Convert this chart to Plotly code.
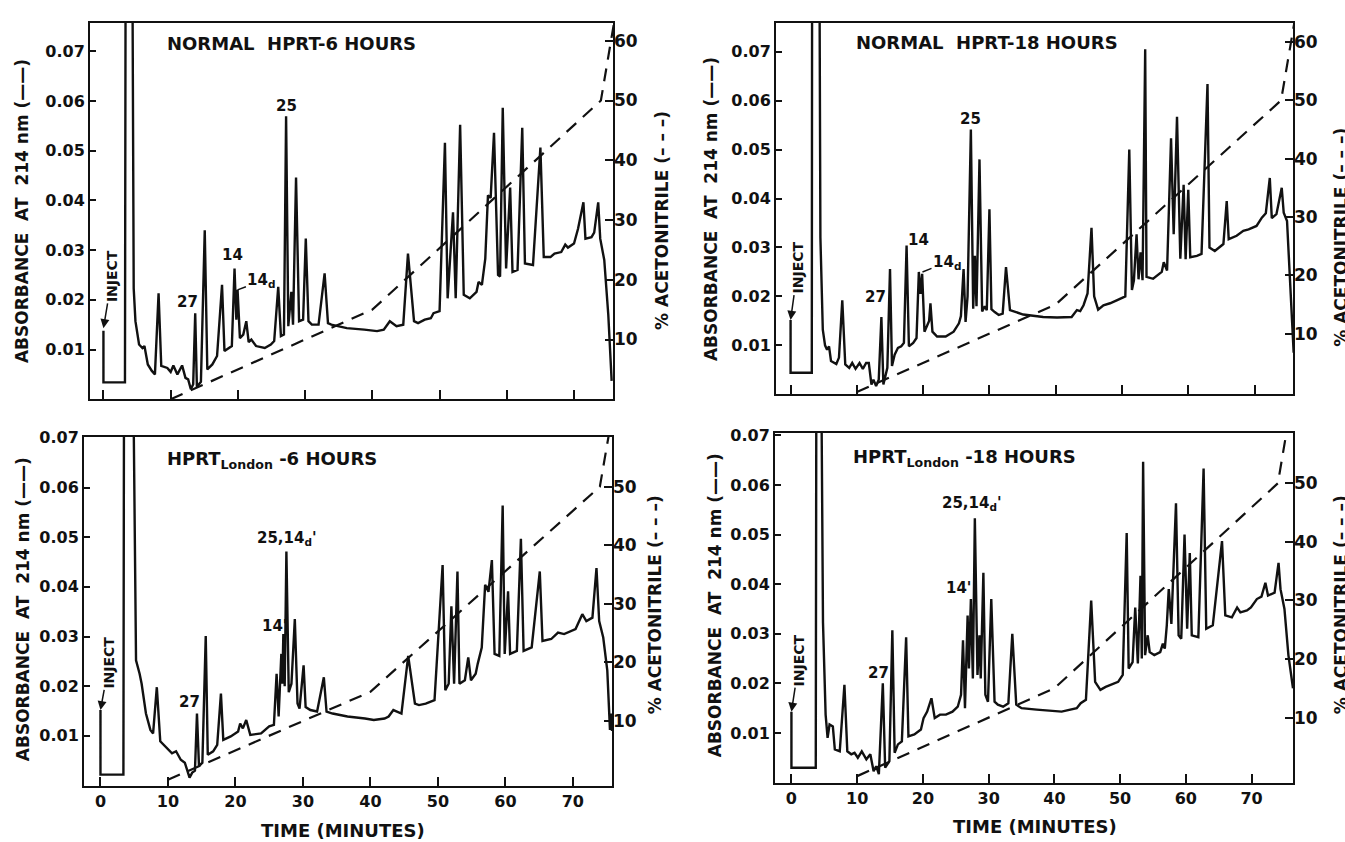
import plotly.graph_objects as go

W, H = 1345, 842

# ---------------- data ----------------
# acetonitrile gradient (% vs minutes)
grad_time = [10, 40, 74, 80]
grad_pct = [0, 15, 50, 90]

abs_ticks = [0.01, 0.02, 0.03, 0.04, 0.05, 0.06, 0.07]
abs_ticktext = ["0.01", "0.02", "0.03", "0.04", "0.05", "0.06", "0.07"]
time_ticks = [0, 10, 20, 30, 40, 50, 60, 70]
pct_ticks_top = [10, 20, 30, 40, 50, 60]
pct_ticks_bottom = [10, 20, 30, 40, 50]

# Normal HPRT - 6 hours
t_n6 = [0, 0, 3.2, 3.3, 4.3, 4.5, 4.76, 5.3, 5.8, 6.1, 6.6, 7.2, 7.66, 8.2, 8.6, 9.5, 10.0, 10.4, 11.0, 11.7,
        12.2, 12.6, 13.0, 13.35, 13.65, 13.9, 14.5, 15.07, 15.45, 16.2, 16.9, 17.64, 18.0, 19.1, 19.5, 19.77,
        19.95, 20.3, 20.8, 21.25, 21.6, 22.0, 22.7, 24.0, 24.9, 25.4, 26.0, 26.4, 26.85, 27.17, 27.5, 27.95,
        28.2, 28.65, 29.1, 29.7, 30.1, 30.5, 31.0, 32.0, 32.9, 33.4, 33.9, 36.2, 38.8, 40.7, 41.7, 42.6, 43.6,
        44.6, 45.3, 46.2, 46.8, 47.8, 48.7, 49.1, 50.0, 50.8, 51.2, 52.0, 52.4, 53.06, 53.6, 54.5, 55.5, 55.8,
        56.3, 56.8, 57.2, 57.6, 58.1, 58.7, 59.0, 59.4, 59.9, 60.5, 60.85, 61.6, 62.3, 62.7, 63.9, 65.0, 65.5,
        66.5, 67.1, 68.1, 68.7, 69.1, 70.0, 70.6, 71.4, 71.7, 72.6, 73.0, 73.6, 73.9, 74.5, 75.1, 75.6]
a_n6 = [0.0138, 0.0034, 0.0034, 0.09, 0.09, 0.0223, 0.0157, 0.0110, 0.0103, 0.0107, 0.0070, 0.0057, 0.0050,
        0.0213, 0.0067, 0.0063, 0.0055, 0.0068, 0.0050, 0.0068, 0.0043, 0.0040, 0.0020, 0.0030, 0.0173, 0.0025,
        0.0035, 0.0340, 0.0060, 0.0070, 0.0087, 0.0230, 0.0097, 0.0107, 0.0263, 0.0160, 0.0220, 0.0123, 0.0130,
        0.0157, 0.0115, 0.0120, 0.0107, 0.0103, 0.0110, 0.0117, 0.0226, 0.0127, 0.0130, 0.0569, 0.0147, 0.0216,
        0.0150, 0.0446, 0.0157, 0.0160, 0.0323, 0.0157, 0.0150, 0.0150, 0.0253, 0.0153, 0.0150, 0.0143, 0.0140,
        0.0137, 0.0140, 0.0157, 0.0147, 0.0150, 0.0293, 0.0157, 0.0153, 0.0160, 0.0163, 0.0173, 0.0177, 0.0516,
        0.0203, 0.0376, 0.0203, 0.0552, 0.0210, 0.0203, 0.0216, 0.0236, 0.0230, 0.0283, 0.0410, 0.0405, 0.0536,
        0.0250, 0.0247, 0.0586, 0.0263, 0.0426, 0.0256, 0.0260, 0.0546, 0.0273, 0.0270, 0.0506, 0.0286, 0.0286,
        0.0293, 0.0296, 0.0311, 0.0305, 0.0313, 0.0343, 0.0396, 0.0323, 0.0326, 0.0335, 0.0396, 0.0323, 0.0280,
        0.0170, 0.0037]

# Normal HPRT - 18 hours
t_n18 = [0, 0, 3.2, 3.25, 4.35, 4.5, 4.86, 5.2, 5.5, 5.8, 6.1, 6.9, 7.3, 7.8, 8.25, 8.85, 9.3, 9.8, 10.4, 10.9,
         11.4, 11.8, 12.2, 12.5, 12.9, 13.3, 13.7, 14.0, 14.6, 15.0, 15.3, 15.7, 16.2, 16.7, 17.1, 17.5, 17.85,
         18.5, 19.0, 19.35, 19.6, 19.85, 20.2, 20.6, 20.9, 21.1, 21.4, 22.1, 23.4, 24.6, 25.4, 25.7, 26.1, 26.4,
         26.7, 27.2, 27.55, 27.8, 28.05, 28.5, 28.9, 29.3, 29.6, 30.0, 30.3, 30.8, 31.4, 32.0, 32.5, 33.1, 34.4,
         35.1, 38.1, 40.2, 42.4, 43.2, 43.7, 44.2, 44.8, 45.4, 45.8, 46.4, 47.2, 48.2, 49.2, 50.5, 51.1, 51.5,
         51.8, 52.2, 52.5, 52.8, 53.1, 53.5, 53.7, 54.7, 56.0, 56.3, 56.8, 57.4, 57.8, 58.3, 58.8, 59.3, 59.6,
         60.0, 60.3, 61.3, 62.0, 62.9, 63.2, 64.0, 65.3, 65.8, 66.1, 67.3, 68.3, 69.1, 70.3, 71.1, 71.7, 72.3,
         72.6, 73.3, 74.1, 74.4, 74.9, 75.4, 75.9]
a_n18 = [0.0152, 0.0044, 0.0044, 0.09, 0.09, 0.0320, 0.0132, 0.0100, 0.0091, 0.0098, 0.0068, 0.0062, 0.0075,
         0.0192, 0.0061, 0.0054, 0.0064, 0.0052, 0.0064, 0.0052, 0.0064, 0.0064, 0.0020, 0.0030, 0.0017, 0.0030,
         0.0158, 0.0020, 0.0054, 0.0256, 0.0058, 0.0081, 0.0095, 0.0098, 0.0105, 0.0304, 0.0098, 0.0105, 0.0115,
         0.0250, 0.0205, 0.0246, 0.0128, 0.0142, 0.0150, 0.0186, 0.0128, 0.0118, 0.0118, 0.0128, 0.0145, 0.0160,
         0.0256, 0.0148, 0.0200, 0.0541, 0.0175, 0.0283, 0.0180, 0.0480, 0.0169, 0.0180, 0.0172, 0.0378, 0.0174,
         0.0168, 0.0162, 0.0165, 0.0260, 0.0172, 0.0166, 0.0163, 0.0158, 0.0157, 0.0158, 0.0172, 0.0170, 0.0182,
         0.0206, 0.0340, 0.0200, 0.0173, 0.0182, 0.0186, 0.0192, 0.0200, 0.0500, 0.0213, 0.0233, 0.0327, 0.0235,
         0.0290, 0.0233, 0.0705, 0.0240, 0.0236, 0.0250, 0.0270, 0.0253, 0.0523, 0.0327, 0.0567, 0.0277, 0.0428,
         0.0276, 0.0418, 0.0280, 0.0283, 0.0287, 0.0634, 0.0300, 0.0293, 0.0307, 0.0395, 0.0317, 0.0324, 0.0334,
         0.0337, 0.0344, 0.0361, 0.0370, 0.0442, 0.0360, 0.0368, 0.0422, 0.0371, 0.0354, 0.0219, 0.0085]

# HPRT London - 6 hours
t_l6 = [0, 0, 3.4, 3.5, 4.8, 5.27, 5.8, 6.1, 6.74, 7.4, 7.8, 8.35, 8.86, 9.6, 10.6, 11.2, 11.9, 12.5, 12.8, 13.2,
        13.6, 14.0, 14.3, 14.6, 15.1, 15.6, 15.9, 16.7, 17.3, 17.85, 18.2, 19.3, 20.4, 20.7, 21.1, 21.6, 22.2,
        23.8, 25.0, 25.7, 26.1, 26.4, 26.8, 26.95, 27.1, 27.3, 27.55, 27.9, 28.3, 28.8, 29.2, 29.5, 30.1, 30.4,
        31.1, 32.1, 33.1, 33.5, 34.4, 36.6, 39.2, 40.5, 42.1, 42.7, 43.4, 44.6, 45.6, 46.6, 47.2, 48.2, 49.5,
        50.7, 51.1, 51.6, 52.0, 52.4, 52.9, 53.2, 54.0, 54.5, 54.9, 55.6, 55.9, 56.5, 57.0, 57.5, 58.0, 58.4,
        59.1, 59.6, 59.9, 60.4, 60.7, 61.7, 62.3, 62.7, 63.9, 65.1, 65.5, 66.8, 67.8, 68.7, 70.4, 71.0, 71.4,
        72.0, 72.9, 73.5, 73.9, 74.5, 75.1, 75.5, 75.65, 75.8]
a_l6 = [0.0152, 0.0022, 0.0022, 0.09, 0.09, 0.0252, 0.0225, 0.0205, 0.0145, 0.0112, 0.0105, 0.0198, 0.0089,
        0.0079, 0.0065, 0.0069, 0.0052, 0.0046, 0.0032, 0.0016, 0.0026, 0.0030, 0.0145, 0.0039, 0.0046, 0.0301,
        0.0062, 0.0069, 0.0082, 0.0185, 0.0092, 0.0099, 0.0109, 0.0125, 0.0115, 0.0132, 0.0102, 0.0105, 0.0119,
        0.0122, 0.0225, 0.0139, 0.0265, 0.0205, 0.0305, 0.0200, 0.0471, 0.0188, 0.0205, 0.0335, 0.0165, 0.0155,
        0.0242, 0.0158, 0.0152, 0.0149, 0.0218, 0.0149, 0.0145, 0.0139, 0.0135, 0.0132, 0.0135, 0.0139, 0.0152,
        0.0145, 0.0261, 0.0165, 0.0162, 0.0165, 0.0172, 0.0444, 0.0192, 0.0205, 0.0361, 0.0205, 0.0431, 0.0205,
        0.0212, 0.0258, 0.0212, 0.0225, 0.0245, 0.0278, 0.0404, 0.0390, 0.0454, 0.0265, 0.0261, 0.0564, 0.0265,
        0.0391, 0.0265, 0.0271, 0.0497, 0.0271, 0.0278, 0.0431, 0.0291, 0.0295, 0.0308, 0.0305, 0.0315, 0.0335,
        0.0345, 0.0331, 0.0338, 0.0438, 0.0331, 0.0298, 0.0232, 0.0112, 0.0145, 0.0110]

# HPRT London - 18 hours
t_l18 = [0, 0, 3.7, 3.8, 4.5, 4.8, 5.2, 5.5, 5.8, 6.3, 6.6, 7.35, 8.06, 8.5, 9.1, 9.6, 10.1, 10.7, 11.4, 12.0,
         12.5, 12.9, 13.3, 13.9, 14.26, 14.9, 15.35, 15.7, 16.2, 16.8, 17.45, 17.8, 18.7, 19.7, 20.1, 20.65,
         21.3, 21.8, 22.6, 23.5, 24.5, 25.3, 25.8, 26.1, 26.4, 26.8, 27.0, 27.3, 27.6, 27.9, 28.3, 28.6, 28.8,
         29.2, 29.5, 29.9, 30.4, 30.9, 31.4, 32.2, 33.0, 33.6, 34.2, 35.0, 37.3, 41.1, 43.4, 44.0, 44.8, 45.6,
         46.2, 47.0, 47.8, 48.5, 49.7, 50.4, 51.0, 51.3, 51.9, 52.3, 52.7, 53.1, 53.3, 53.5, 53.8, 54.2, 54.5,
         55.2, 56.1, 56.5, 56.8, 57.1, 57.4, 57.8, 58.5, 58.9, 59.3, 59.8, 60.2, 60.6, 60.9, 61.9, 62.7, 63.1,
         64.1, 65.5, 66.0, 67.0, 67.8, 68.3, 69.3, 69.9, 70.8, 71.5, 72.1, 72.5, 73.5, 74.1, 74.4, 75.0, 75.6,
         76.3]
a_l18 = [0.0143, 0.0030, 0.0030, 0.09, 0.09, 0.0323, 0.0137, 0.0090, 0.0117, 0.0113, 0.0067, 0.0063, 0.0197,
         0.0063, 0.0057, 0.0060, 0.0050, 0.0063, 0.0047, 0.0057, 0.0023, 0.0033, 0.0017, 0.0200, 0.0030, 0.0043,
         0.0307, 0.0060, 0.0077, 0.0083, 0.0293, 0.0093, 0.0097, 0.0107, 0.0130, 0.0143, 0.0170, 0.0130, 0.0137,
         0.0137, 0.0143, 0.0153, 0.0177, 0.0287, 0.0150, 0.0337, 0.0230, 0.0370, 0.0210, 0.0533, 0.0217, 0.0297,
         0.0210, 0.0423, 0.0177, 0.0163, 0.0370, 0.0163, 0.0157, 0.0153, 0.0160, 0.0300, 0.0157, 0.0150, 0.0147,
         0.0143, 0.0150, 0.0160, 0.0167, 0.0367, 0.0203, 0.0187, 0.0193, 0.0197, 0.0203, 0.0217, 0.0503, 0.0230,
         0.0243, 0.0353, 0.0240, 0.0417, 0.0250, 0.0647, 0.0257, 0.0297, 0.0263, 0.0257, 0.0263, 0.0280, 0.0270,
         0.0317, 0.0390, 0.0320, 0.0563, 0.0297, 0.0290, 0.0500, 0.0310, 0.0463, 0.0297, 0.0293, 0.0633, 0.0310,
         0.0317, 0.0487, 0.0337, 0.0333, 0.0353, 0.0343, 0.0347, 0.0353, 0.0370, 0.0375, 0.0403, 0.0377, 0.0383,
         0.0443, 0.0390, 0.0350, 0.0257, 0.0190]

# peak labels: (text, minutes, absorbance)
labels_n6 = [("27", 12.55, 0.0196), ("14", 19.25, 0.0290), ("25", 27.17, 0.0590)]
labels_n18 = [("27", 12.85, 0.0199), ("14", 19.25, 0.0316), ("25", 27.1, 0.0562)]
labels_l6 = [("27", 13.2, 0.0168), ("14'", 25.8, 0.0321), ("25,14<sub>d</sub>'", 27.6, 0.0497)]
labels_l18 = [("27", 13.3, 0.0220), ("14'", 25.4, 0.0393), ("25,14<sub>d</sub>'", 27.4, 0.0563)]

# ---------------- layout helpers ----------------
FONT = "DejaVu Sans"
BLACK = "#111111"

panels = [
    dict(t=t_n6, a=a_n6, box=(90, 613, 15, 395), xr=[-2.0, 75.8], yr=[0, 0.0757], y2r=[0, 63],
         y2t=pct_ticks_top, xlab=False, title="NORMAL  HPRT-6 HOURS", title_pos=(9.1, 0.0715),
         labels=labels_n6, inject=(0, 0.0143, 1.3, 0.0248), sub=(19.95, 0.0220, 22.3, 0.0238),
         ltitle=(22, 205), rtitle=(662, 215)),
    dict(t=t_n18, a=a_n18, box=(776, 1293, 15, 390), xr=[-2.2, 75.8], yr=[0, 0.0759], y2r=[-0.4, 63.3],
         y2t=pct_ticks_top, xlab=False, title="NORMAL  HPRT-18 HOURS", title_pos=(9.5, 0.0719),
         labels=labels_n18, inject=(0, 0.0152, 1.1, 0.0259), sub=(19.9, 0.0250, 22.4, 0.0270),
         ltitle=(711, 203), rtitle=(1341, 232)),
    dict(t=t_l6, a=a_l6, box=(84, 612, 433, 785), xr=[-2.44, 75.8], yr=[0, 0.0702], y2r=[-1, 58.5],
         y2t=pct_ticks_bottom, xlab=True, title="HPRT<sub>London</sub> -6 HOURS", title_pos=(9.6, 0.0655),
         labels=labels_l6, inject=(0, 0.0152, 1.3, 0.0248), sub=None,
         ltitle=(23, 607), rtitle=(655, 603), xtitle=(343, 830)),
    dict(t=t_l18, a=a_l18, box=(775, 1293, 429, 782), xr=[-2.5, 76.3], yr=[0, 0.0705], y2r=[-1.1, 58.6],
         y2t=pct_ticks_bottom, xlab=True, title="HPRT<sub>London</sub> -18 HOURS", title_pos=(9.1, 0.0655),
         labels=labels_l18, inject=(0, 0.0143, 1.2, 0.0247), sub=None,
         ltitle=(715, 603), rtitle=(1341, 603), xtitle=(1035, 826)),
]

fig = go.Figure()
layout = dict(width=W, height=H, margin=dict(l=0, r=0, t=0, b=0), showlegend=False,
              paper_bgcolor="white", plot_bgcolor="white", annotations=[])


def tf(size):
    return dict(family=FONT, size=size, color=BLACK, weight="bold")


for i, p in enumerate(panels):
    xn = "x" if i == 0 else f"x{i+1}"
    yn = f"y{2*i+1}" if i > 0 else "y"
    y2n = f"y{2*i+2}"
    xk = "xaxis" if i == 0 else f"xaxis{i+1}"
    yk = "yaxis" if i == 0 else f"yaxis{2*i+1}"
    y2k = f"yaxis{2*i+2}"
    l, r, t, b = p["box"]
    xd = [l / W, r / W]
    yd = [1 - b / H, 1 - t / H]

    layout[xk] = dict(domain=xd, range=p["xr"], anchor=yn, tickvals=time_ticks, ticks="inside",
                      ticklen=9, tickwidth=2, tickcolor=BLACK, showline=True, linewidth=2,
                      linecolor=BLACK, mirror=True, showgrid=False, zeroline=False,
                      showticklabels=p["xlab"], tickfont=tf(16))
    layout[yk] = dict(domain=yd, range=p["yr"], anchor=xn, tickvals=abs_ticks, ticktext=abs_ticktext,
                      ticks="inside", ticklen=6, tickwidth=2, tickcolor=BLACK, showline=True,
                      linewidth=2, linecolor=BLACK, mirror=True, showgrid=False, zeroline=False,
                      tickfont=tf(16))
    layout[y2k] = dict(domain=yd, range=p["y2r"], anchor=xn, overlaying=yn, side="right",
                       tickvals=p["y2t"], ticks="inside", ticklen=8, tickwidth=2, tickcolor=BLACK,
                       showline=False, showgrid=False, zeroline=False, tickfont=tf(17))

    fig.add_trace(go.Scatter(x=p["t"], y=p["a"], mode="lines", xaxis=xn, yaxis=yn,
                             line=dict(color=BLACK, width=2.4), hoverinfo="skip"))
    fig.add_trace(go.Scatter(x=grad_time, y=grad_pct, mode="lines", xaxis=xn, yaxis=y2n,
                             line=dict(color=BLACK, width=2.2, dash="13px,9px"), hoverinfo="skip"))

    ann = layout["annotations"]
    # title
    ann.append(dict(text=p["title"], x=p["title_pos"][0], y=p["title_pos"][1], xref=xn, yref=yn,
                    xanchor="left", yanchor="middle", showarrow=False, font=tf(18)))
    # peak labels
    for txt, lx, ly in p["labels"]:
        ann.append(dict(text=txt, x=lx, y=ly, xref=xn, yref=yn, xanchor="center", yanchor="middle",
                        showarrow=False, font=tf(15)))
    # 14d with leader line
    if p["sub"]:
        px_, py_, tx_, ty_ = p["sub"]
        ann.append(dict(text="14<sub>d</sub>", x=px_, y=py_, xref=xn, yref=yn, axref=xn, ayref=yn,
                        ax=tx_ + 1.2, ay=ty_, showarrow=True, arrowhead=0, arrowwidth=1.5,
                        arrowcolor=BLACK, font=tf(15)))
    # inject marker
    ix, iy, itx, ity = p["inject"]
    ann.append(dict(text="INJECT", x=ix, y=iy, xref=xn, yref=yn, axref=xn, ayref=yn, ax=itx, ay=ity,
                    textangle=-90, showarrow=True, arrowhead=2, arrowsize=1.2, arrowwidth=1.5,
                    arrowcolor=BLACK, font=tf(14)))
    # axis titles
    lx, ly = p["ltitle"]
    ann.append(dict(text="ABSORBANCE  AT  214 nm (——)", x=lx / W, y=1 - ly / H, xref="paper",
                    yref="paper", xanchor="center", yanchor="middle", textangle=-90,
                    showarrow=False, font=tf(17)))
    rx, ry = p["rtitle"]
    ann.append(dict(text="% ACETONITRILE (– – –)", x=rx / W, y=1 - ry / H, xref="paper",
                    yref="paper", xanchor="center", yanchor="middle", textangle=-90,
                    showarrow=False, font=tf(17)))
    if "xtitle" in p:
        tx, ty = p["xtitle"]
        ann.append(dict(text="TIME (MINUTES)", x=tx / W, y=1 - ty / H, xref="paper", yref="paper",
                        xanchor="center", yanchor="middle", showarrow=False, font=tf(18)))

fig.update_layout(**layout)
fig.write_html("out.html", config={"displayModeBar": False},
               post_script="document.body.style.margin='0px';")
